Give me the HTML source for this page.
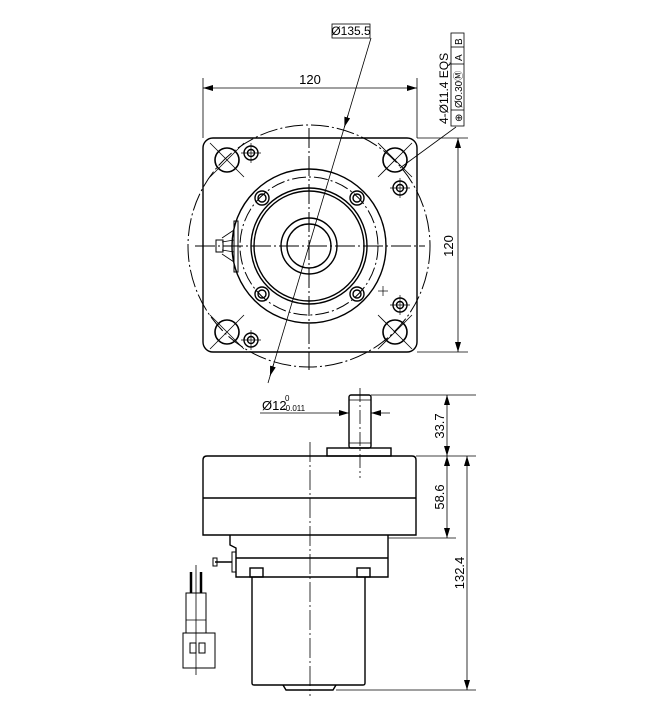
<!DOCTYPE html>
<html><head><meta charset="utf-8"><style>
html,body{margin:0;padding:0;background:#fff;}
svg{display:block;}
text{font-family:"Liberation Sans Narrow","Liberation Sans",sans-serif;fill:#000;}
</style></head><body>
<svg width="650" height="717" viewBox="0 0 650 717" xmlns="http://www.w3.org/2000/svg">
<defs>
<marker id="a" viewBox="0 0 10 6" refX="10" refY="3" markerWidth="10" markerHeight="6" orient="auto-start-reverse" markerUnits="userSpaceOnUse"><path d="M0,0 L10,3 L0,6 z" fill="#000"/></marker>
</defs>
<g fill="none" stroke="#000" stroke-width="1.4">
<!-- TOP VIEW -->
<rect x="203" y="138" width="214" height="214" rx="10"/>
<circle cx="309" cy="246" r="121" stroke-dasharray="18,3,2,3" stroke-width="1"/>
<circle cx="309" cy="246" r="77"/>
<circle cx="309" cy="246" r="69" stroke-dasharray="14,3,2,3" stroke-width="1"/>
<circle cx="309" cy="246" r="58"/>
<circle cx="309" cy="246" r="55"/>
<circle cx="309" cy="246" r="28"/>
<circle cx="309" cy="246" r="22"/>
<g stroke-width="1">
<line x1="309" y1="128" x2="309" y2="370" stroke-dasharray="20,3,2,3"/>
<line x1="195" y1="246" x2="425" y2="246" stroke-dasharray="20,3,2,3"/>
</g>
<g stroke-width="1.6">
<circle cx="227" cy="160" r="12"/><circle cx="395" cy="160" r="12"/>
<circle cx="227" cy="332" r="12"/><circle cx="395" cy="332" r="12"/>
</g>
<g stroke-width="0.8">
<line x1="210" y1="143" x2="244" y2="177"/><line x1="244" y1="143" x2="210" y2="177"/>
<line x1="378" y1="143" x2="412" y2="177"/><line x1="412" y1="143" x2="378" y2="177"/>
<line x1="210" y1="315" x2="244" y2="349"/><line x1="244" y1="315" x2="210" y2="349"/>
<line x1="378" y1="315" x2="412" y2="349"/><line x1="412" y1="315" x2="378" y2="349"/>
</g>
<g stroke-width="1.4">
<circle cx="251" cy="153" r="7"/><circle cx="251" cy="153" r="3.5"/>
<circle cx="400" cy="188" r="7"/><circle cx="400" cy="188" r="3.5"/>
<circle cx="400" cy="305" r="7"/><circle cx="400" cy="305" r="3.5"/>
<circle cx="251" cy="340" r="7"/><circle cx="251" cy="340" r="3.5"/>
<circle cx="262" cy="198" r="7"/><circle cx="262" cy="198" r="4"/>
<circle cx="357" cy="198" r="7"/><circle cx="357" cy="198" r="4"/>
<circle cx="262" cy="294" r="7"/><circle cx="262" cy="294" r="4"/>
<circle cx="357" cy="294" r="7"/><circle cx="357" cy="294" r="4"/>
</g>
<g stroke-width="0.7">
<line x1="241" y1="153" x2="261" y2="153"/><line x1="251" y1="143" x2="251" y2="163"/>
<line x1="390" y1="188" x2="410" y2="188"/><line x1="400" y1="178" x2="400" y2="198"/>
<line x1="390" y1="305" x2="410" y2="305"/><line x1="400" y1="295" x2="400" y2="315"/>
<line x1="241" y1="340" x2="261" y2="340"/><line x1="251" y1="330" x2="251" y2="350"/>
<line x1="378" y1="291" x2="388" y2="291"/><line x1="383" y1="286" x2="383" y2="296"/>
</g>
<rect x="234" y="221" width="4" height="51" stroke-width="1"/>
<path d="M234,230 L222,238 M234,262 L222,254 M234,240 L222,242 M234,252 L222,250" stroke-width="0.8"/>
<rect x="216" y="240" width="7" height="12" stroke-width="1"/>
<g stroke-width="0.8">
<line x1="203" y1="78" x2="203" y2="138"/><line x1="417" y1="78" x2="417" y2="138"/>
<line x1="203" y1="88" x2="417" y2="88" marker-start="url(#a)" marker-end="url(#a)"/>
<line x1="417" y1="138" x2="468" y2="138"/><line x1="417" y1="352" x2="468" y2="352"/>
<line x1="458" y1="138" x2="458" y2="352" marker-start="url(#a)" marker-end="url(#a)"/>
<line x1="371" y1="38" x2="268" y2="383"/>
<line x1="348" y1="115" x2="344.4" y2="127" marker-end="url(#a)"/>
<line x1="273.7" y1="364" x2="270" y2="376" marker-end="url(#a)"/>
<line x1="456" y1="127" x2="400" y2="168"/>
<rect x="332" y="24" width="38" height="14"/>
<rect x="451" y="33" width="13" height="93"/>
<line x1="451" y1="110" x2="464" y2="110"/><line x1="451" y1="64" x2="464" y2="64"/>
<line x1="451" y1="47" x2="464" y2="47"/>
</g>
</g>
<text x="310" y="84" font-size="13" text-anchor="middle">120</text>
<text x="0" y="0" font-size="13" text-anchor="middle" transform="translate(453,246) rotate(-90)">120</text>
<text x="351" y="35" font-size="12" text-anchor="middle">Ø135.5</text>
<text x="0" y="0" font-size="12" transform="translate(448,124) rotate(-90)">4-Ø11.4 EQS</text>
<text x="0" y="0" font-size="10" transform="translate(462,122) rotate(-90)">⊕</text>
<text x="0" y="0" font-size="10" transform="translate(462,108) rotate(-90)">Ø0.30Ⓜ</text>
<text x="0" y="0" font-size="10" transform="translate(462,61) rotate(-90)">A</text>
<text x="0" y="0" font-size="10" transform="translate(462,45) rotate(-90)">B</text>

<g fill="none" stroke="#000" stroke-width="1.4">
<rect x="349" y="395" width="22" height="53" rx="2"/>
<line x1="349" y1="400" x2="371" y2="400" stroke-width="0.8"/>
<line x1="349" y1="443" x2="371" y2="443" stroke-width="0.8"/>
<rect x="327" y="448" width="64" height="8"/>
<path d="M203,460 Q203,456 207,456 L412,456 Q416,456 416,460 L416,535 L203,535 Z"/>
<line x1="203" y1="498" x2="416" y2="498"/>
<path d="M230,535 L230,545 L236,548 L236,577 L388,577 L388,535"/>
<line x1="236" y1="558" x2="388" y2="558"/>
<rect x="250" y="568" width="13" height="9"/><rect x="357" y="568" width="13" height="9"/>
<path d="M252,577 L252,683 Q252,685 254,685 L363,685 Q365,685 365,683 L365,577"/>
<path d="M283,685 L286,690 L333,690 L336,685"/>
<line x1="215" y1="562" x2="232" y2="562" stroke-width="1.5"/>
<rect x="213" y="558" width="4" height="8" stroke-width="1"/>
<rect x="232" y="552" width="4" height="20" stroke-width="1"/>
<line x1="191" y1="572" x2="191" y2="593" stroke-width="2.5"/>
<line x1="201" y1="572" x2="201" y2="593" stroke-width="2.5"/>
<rect x="186" y="593" width="20" height="40" stroke-width="1"/>
<line x1="186" y1="620" x2="206" y2="620" stroke-width="0.8"/>
<rect x="183" y="633" width="32" height="35" stroke-width="1"/>
<rect x="190" y="643" width="6" height="10" stroke-width="1"/>
<rect x="199" y="643" width="6" height="10" stroke-width="1"/>
<g stroke-width="0.8">
<line x1="310" y1="442" x2="310" y2="696" stroke-dasharray="20,3,2,3"/>
<line x1="360" y1="388" x2="360" y2="478" stroke-dasharray="14,3,2,3"/>
<line x1="196" y1="565" x2="196" y2="675"/>
<line x1="371" y1="395" x2="476" y2="395"/>
<line x1="416" y1="456" x2="476" y2="456"/>
<line x1="388" y1="538" x2="456" y2="538"/>
<line x1="336" y1="690" x2="476" y2="690"/>
<line x1="447" y1="395" x2="447" y2="456" marker-start="url(#a)" marker-end="url(#a)"/>
<line x1="447" y1="456" x2="447" y2="538" marker-start="url(#a)" marker-end="url(#a)"/>
<line x1="467" y1="456" x2="467" y2="690" marker-start="url(#a)" marker-end="url(#a)"/>
<line x1="260" y1="413" x2="349" y2="413" marker-end="url(#a)"/>
<line x1="390" y1="413" x2="371" y2="413" marker-end="url(#a)"/>
</g>
</g>
<text x="262" y="410" font-size="13">Ø12</text>
<text x="285" y="401" font-size="8">0</text>
<text x="283" y="411" font-size="8">-0.011</text>
<text x="0" y="0" font-size="13" text-anchor="middle" transform="translate(444,426) rotate(-90)">33.7</text>
<text x="0" y="0" font-size="13" text-anchor="middle" transform="translate(444,497) rotate(-90)">58.6</text>
<text x="0" y="0" font-size="13" text-anchor="middle" transform="translate(464,573) rotate(-90)">132.4</text>
</svg>
</body></html>
